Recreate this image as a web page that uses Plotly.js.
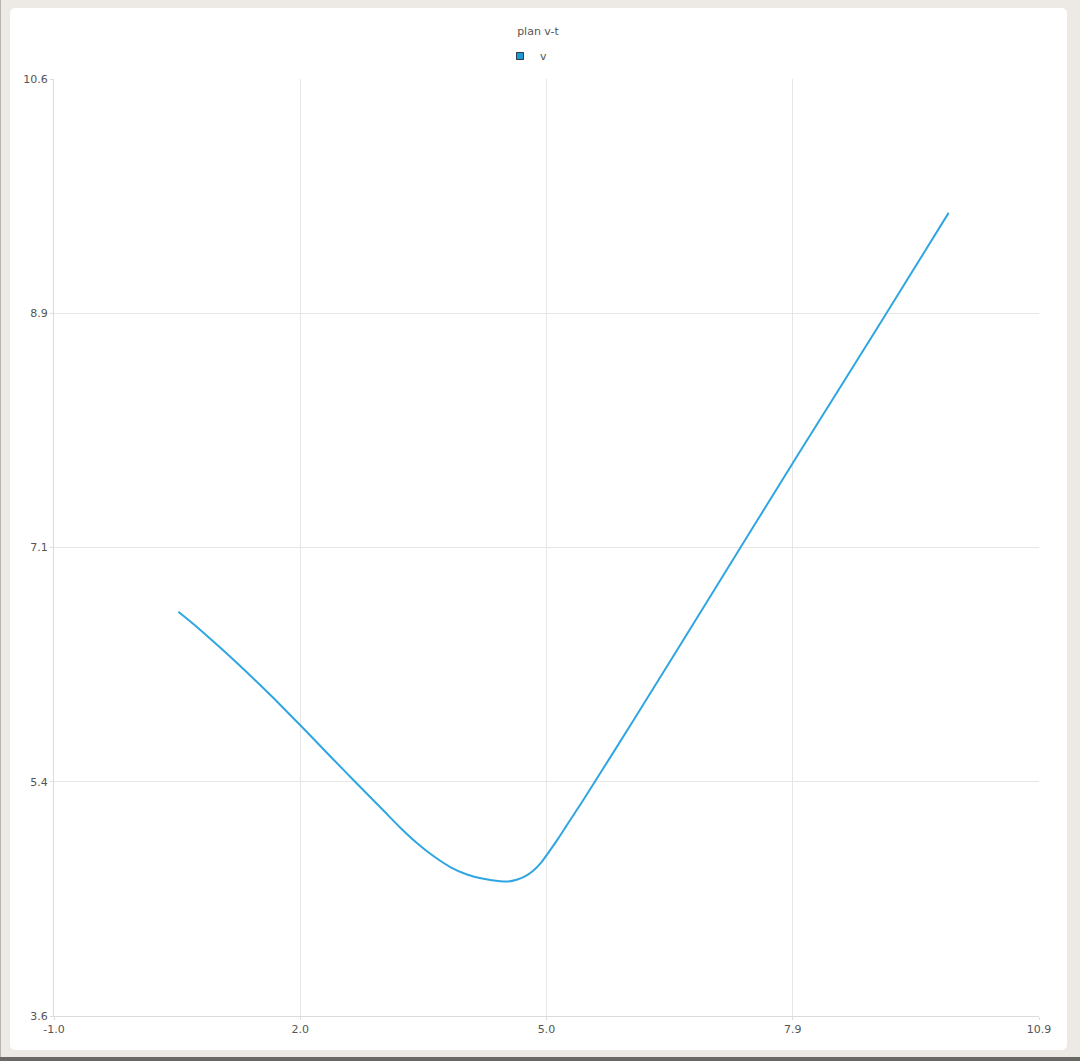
<!DOCTYPE html>
<html>
<head>
<meta charset="utf-8">
<script src="https://cdn.plot.ly/plotly-3.0.1.min.js"></script>
<style>
  html, body { margin: 0; padding: 0; background: #edeae6; width: 1080px; height: 1061px; overflow: hidden; }
  #card { position: absolute; left: 10px; top: 8px; width: 1057px; height: 1042px; background: #ffffff; border-radius: 5px; }
  #bottombar { position: absolute; left: 0; top: 1057px; width: 1080px; height: 4px; background: #6b6966; }
  #leftbar { position: absolute; left: 0; top: 0; width: 1px; height: 1061px; background: #b8b5b1; }
  #chart { position: absolute; left: 0; top: 0; width: 1080px; height: 1061px; }
</style>
</head>
<body>
<div id="card"></div>
<div id="leftbar"></div>
<div id="bottombar"></div>
<div id="chart"></div>
<script>
// data
const t = [0.52, 0.75, 1.00, 1.25, 1.50, 1.75, 2.00, 2.25, 2.50, 2.75, 3.00, 3.20, 3.40, 3.60, 3.80, 4.00, 4.20, 4.40,
           4.50, 4.60, 4.70, 4.80, 4.90, 5.00, 5.10, 5.20, 5.30, 5.40, 6.00, 7.00, 8.00, 9.00, 9.81];
const v = [6.620, 6.503, 6.366, 6.224, 6.076, 5.924, 5.766, 5.606, 5.446, 5.288, 5.131, 5.005, 4.891, 4.793, 4.713, 4.657, 4.625, 4.607,
           4.605, 4.618, 4.643, 4.685, 4.750, 4.835, 4.925, 5.020, 5.115, 5.210, 5.800, 6.800, 7.800, 8.790, 9.600];
const seriesName = "v";
const chartTitle = "plan v-t";
const xTickVals = [-0.98, 1.99, 4.96, 7.93, 10.90];
const xTickText = ["-1.0", "2.0", "5.0", "7.9", "10.9"];
const yTickVals = [3.60, 5.35, 7.10, 8.85, 10.60];
const yTickText = ["3.6", "5.4", "7.1", "8.9", "10.6"];

const lineColor = "#2fa6e2";

const traces = [
  {
    x: t, y: v, type: "scatter", mode: "lines", name: seriesName,
    line: { color: lineColor, width: 2, shape: "spline", smoothing: 0.8 },
    showlegend: false, hoverinfo: "x+y"
  },
  {
    x: [null], y: [null], type: "scatter", mode: "markers", name: seriesName,
    marker: { symbol: "square", size: 7, color: "#1e9ad8", line: { color: "#2b3a44", width: 1 } },
    showlegend: true
  }
];

const axisFont = { family: "DejaVu Sans, sans-serif", size: 11, color: "#555555" };

const layout = {
  width: 1080, height: 1061,
  paper_bgcolor: "rgba(0,0,0,0)",
  plot_bgcolor: "#ffffff",
  margin: { l: 54, r: 41, t: 79, b: 45 },
  font: axisFont,
  title: {
    text: chartTitle,
    font: { family: "DejaVu Sans, sans-serif", size: 11, color: "#555555" },
    x: 538 / 1080, xanchor: "center", xref: "container",
    y: 1 - 31 / 1061, yanchor: "middle", yref: "container"
  },
  showlegend: true,
  legend: {
    orientation: "h",
    x: 526 / 1080, xanchor: "center", xref: "container",
    y: 1 - 56 / 1061, yanchor: "middle", yref: "container",
    itemwidth: 30,
    font: { family: "DejaVu Sans, sans-serif", size: 11, color: "#555555" },
    bgcolor: "rgba(0,0,0,0)"
  },
  xaxis: {
    range: [-0.98, 10.90],
    tickmode: "array", tickvals: xTickVals, ticktext: xTickText,
    showgrid: true, gridcolor: "#e6e6e6", gridwidth: 1,
    showline: true, linecolor: "#dcdcdc", linewidth: 1,
    ticks: "outside", ticklen: 3, tickcolor: "#dcdcdc",
    zeroline: false, tickfont: axisFont
  },
  yaxis: {
    range: [3.60, 10.60],
    tickmode: "array", tickvals: yTickVals, ticktext: yTickText,
    showgrid: true, gridcolor: "#e6e6e6", gridwidth: 1,
    showline: true, linecolor: "#dcdcdc", linewidth: 1,
    ticks: "outside", ticklen: 3, tickcolor: "#dcdcdc",
    zeroline: false, tickfont: axisFont
  }
};

Plotly.newPlot("chart", traces, layout, { displayModeBar: false });
</script>
</body>
</html>
